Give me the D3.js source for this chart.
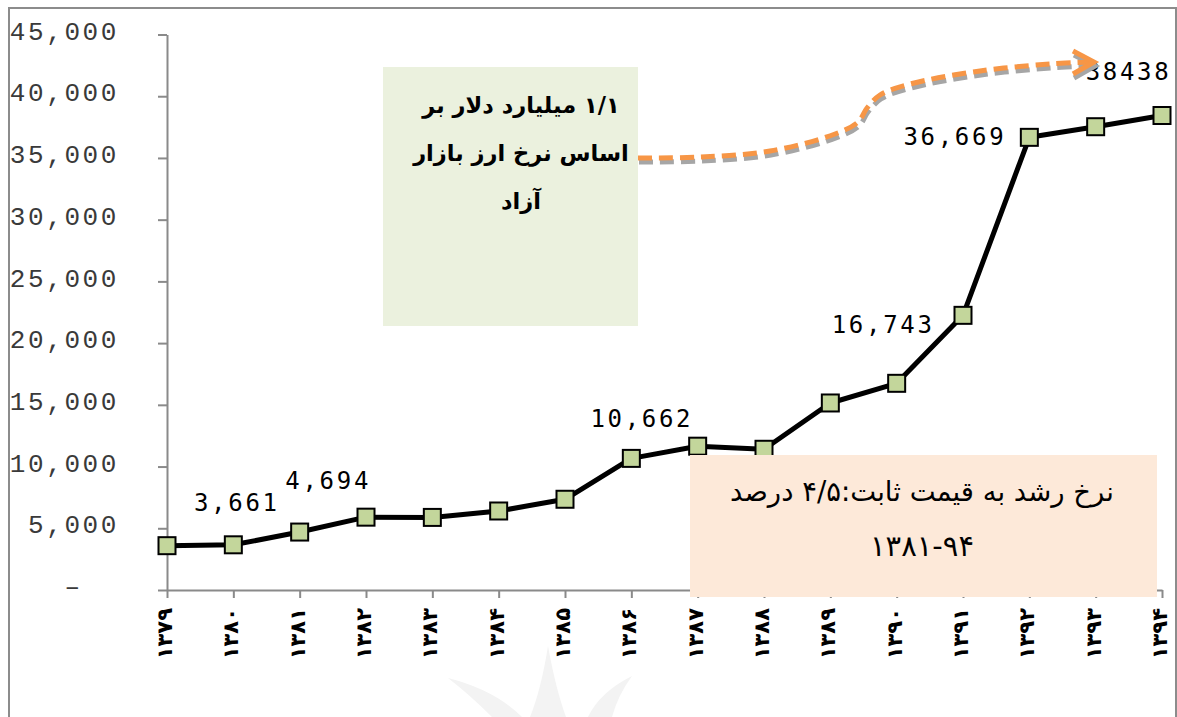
<!DOCTYPE html>
<html><head><meta charset="utf-8">
<script src="https://cdn.jsdelivr.net/npm/d3@7"></script>
<style>body{margin:0;background:#fff}svg{display:block}</style>
</head><body>
<script>
// ---- data ----
const categories = ["1379","1380","1381","1382","1383","1384","1385","1386","1387","1388","1389","1390","1391","1392","1393","1394"];
const xTickLabels = ["۱۳۷۹","۱۳۸۰","۱۳۸۱","۱۳۸۲","۱۳۸۳","۱۳۸۴","۱۳۸۵","۱۳۸۶","۱۳۸۷","۱۳۸۸","۱۳۸۹","۱۳۹۰","۱۳۹۱","۱۳۹۲","۱۳۹۳","۱۳۹۴"];
const values = [3590,3661,4694,5900,5880,6400,7350,10662,11650,11400,15150,16743,22250,36669,37530,38438];
const yTicks = [0,5000,10000,15000,20000,25000,30000,35000,40000,45000];
const labelCats = ["1380","1381","1386","1390","1392","1394"];
const labelTexts = ["3,661","4,694","10,662","16,743","36,669","38438"];
const noteGreen = ["۱/۱ میلیارد دلار بر","اساس نرخ ارز بازار","آزاد"];
const notePeach = ["نرخ رشد به قیمت ثابت:۴/۵ درصد","۱۳۸۱\u200E-\u200E۹۴"];

// ---- layout ----
const W = 1177, H = 717;
const svg = d3.select("body").append("svg").attr("width", W).attr("height", H);
svg.append("rect").attr("width", W).attr("height", H).attr("fill", "#fff");

// faint watermark in the background
const wm = svg.append("g").attr("fill", "#f3f3f3");
wm.append("path").attr("d", "M548,646 Q556,690 566,717 L530,717 Q541,690 548,646 Z");
wm.append("path").attr("d", "M448,678 Q495,690 522,717 L492,717 Q470,695 448,678 Z");
wm.append("path").attr("d", "M632,676 Q600,692 588,717 L612,717 Q618,695 632,676 Z");

const x = d3.scalePoint().domain(categories).range([167, 1162]);
const y = d3.scaleLinear().domain([0, 45000]).range([590, 34.5]);
const axisColor = "#8a8a8a";

// y axis
const yAxis = svg.append("g").attr("transform", "translate(167,0)")
  .call(d3.axisLeft(y).tickValues(yTicks).tickSize(9).tickSizeOuter(0).tickPadding(39)
    .tickFormat(d => d === 0 ? "\u2013\u00a0\u00a0" : d3.format(",")(d)));
yAxis.select(".domain").attr("stroke", axisColor).attr("stroke-width", 2);
yAxis.selectAll(".tick line").attr("stroke", axisColor).attr("stroke-width", 2);
yAxis.selectAll(".tick text")
  .attr("font-family", "'Liberation Mono', monospace").attr("font-size", 26)
  .attr("letter-spacing", "2.6px").attr("fill", "#3a3a3a").attr("dy", "0.18em");

// x axis
const xAxis = svg.append("g").attr("transform", "translate(0,590)")
  .call(d3.axisBottom(x).tickSize(8).tickSizeOuter(0).tickFormat(""));
xAxis.select(".domain").attr("stroke", axisColor).attr("stroke-width", 2);
xAxis.selectAll(".tick line").attr("stroke", axisColor).attr("stroke-width", 2);

svg.append("g").selectAll("text").data(categories).join("text")
  .attr("transform", d => `translate(${x(d) - 1},608) rotate(-90)`)
  .attr("text-anchor", "end").attr("dominant-baseline", "middle")
  .attr("font-family", "'DejaVu Sans', sans-serif").attr("font-weight", "bold")
  .attr("font-size", 21).attr("fill", "#000")
  .text((d, i) => xTickLabels[i]);

// line
const pts = categories.map((c, i) => [x(c), y(values[i])]);
svg.append("path").attr("d", d3.line()(pts)).attr("fill", "none")
  .attr("stroke", "#000").attr("stroke-width", 5).attr("stroke-linejoin", "round");
svg.append("g").selectAll("rect").data(pts).join("rect")
  .attr("x", d => d[0] - 8.5).attr("y", d => d[1] - 8.5)
  .attr("width", 17).attr("height", 17)
  .attr("fill", "#c3d69b").attr("stroke", "#000").attr("stroke-width", 2);

// data labels
const labelOffsets = [[2, -34], [27, -43], [9, -31], [-15, -50], [-26, 8], [-35, -36]];
const labelAnchor = ["middle", "middle", "middle", "middle", "end", "middle"];
svg.append("g").selectAll("text").data(labelCats).join("text")
  .attr("x", (c, i) => x(c) + labelOffsets[i][0] + (labelAnchor[i] === "end" ? 3 : 1.5))
  .attr("y", (c, i) => y(values[categories.indexOf(c)]) + labelOffsets[i][1])
  .attr("text-anchor", (c, i) => labelAnchor[i])
  .attr("font-family", "'DejaVu Sans Mono', monospace").attr("font-size", 24)
  .attr("letter-spacing", "2.7px").attr("fill", "#000")
  .text((c, i) => labelTexts[i]);

// green note
svg.append("rect").attr("x", 383).attr("y", 67).attr("width", 255).attr("height", 259).attr("fill", "#ebf1de");
svg.append("g").selectAll("text").data(noteGreen).join("text")
  .attr("x", 521).attr("y", (d, i) => 113 + i * 48)
  .attr("text-anchor", "middle").attr("direction", "rtl")
  .attr("font-family", "'DejaVu Sans', sans-serif").attr("font-weight", "bold")
  .attr("font-size", 22.5).attr("fill", "#000").text(d => d);

// curved dashed arrow
const arrowPts = [[638,158],[700,157],[770,151],[835,134],[858,122],[867,108],[880,95],[910,84],[980,71],[1050,64],[1092,62]];
const arrowHead = [[1073,51],[1094,62],[1073,74]];
const curve = d3.line().curve(d3.curveCatmullRom.alpha(0.5));
const drawArrow = (color, dx, dy) => {
  const g = svg.append("g").attr("transform", `translate(${dx},${dy})`);
  g.append("path").attr("d", curve(arrowPts)).attr("fill", "none")
    .attr("stroke", color).attr("stroke-width", 5).attr("stroke-dasharray", "14,7");
  g.append("path").attr("d", d3.line()(arrowHead)).attr("fill", "none")
    .attr("stroke", color).attr("stroke-width", 5).attr("stroke-linejoin", "miter");
};
drawArrow("#a6a6a6", 1, 4);
drawArrow("#f79646", 0, 0);

// peach note
svg.append("rect").attr("x", 690).attr("y", 455).attr("width", 467).attr("height", 142).attr("fill", "#fde9d9");
svg.append("g").selectAll("text").data(notePeach).join("text")
  .attr("x", 922).attr("y", (d, i) => 501 + i * 55)
  .attr("text-anchor", "middle").attr("direction", "rtl")
  .attr("font-family", "'DejaVu Sans', sans-serif")
  .attr("font-size", (d, i) => i === 0 ? 27.5 : 29).attr("fill", "#000").text(d => d);

// outer frame
svg.append("rect").attr("x", 9).attr("y", 8).attr("width", 1167).attr("height", 720)
  .attr("fill", "none").attr("stroke", "#8c8c8c").attr("stroke-width", 2);
</script>
</body></html>
